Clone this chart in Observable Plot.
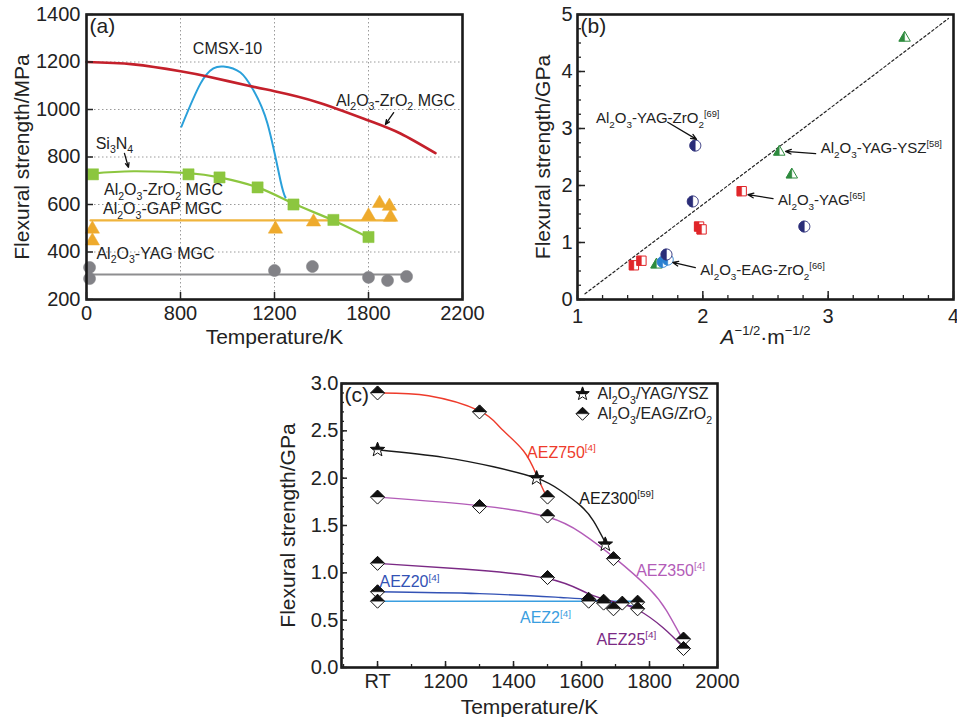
<!DOCTYPE html>
<html><head><meta charset="utf-8">
<script src="https://cdn.jsdelivr.net/npm/d3@7"></script>
<script src="https://cdn.jsdelivr.net/npm/@observablehq/plot@0.6"></script>
<style>
body{margin:0;background:#fff;}
#fig{position:relative;width:957px;height:717px;overflow:hidden;}
#fig > div{position:absolute;}
#pa{left:0;top:0;} #pb{left:478px;top:0;} #pc{left:230px;top:362px;}
</style></head>
<body><div id="fig"><div id="pa"></div><div id="pb"></div><div id="pc"></div></div>
<script>
const FONT = "'Liberation Sans', Arial, Helvetica, sans-serif";

// ---------------- Panel (a) data ----------------
const aTempTicks = [0, 800, 1200, 1800, 2200];
const aStrengthTicks = [200, 400, 600, 800, 1000, 1200, 1400];
const aZrO2FitT = [0, 400, 800, 915, 1085, 1200, 1474, 1800, 1936, 2085];
const aZrO2FitS = [1200, 1190, 1161, 1139, 1101, 1077, 1031, 954, 899, 816];
const aCmsxT = [804, 885, 940, 983, 1055, 1111, 1170, 1238, 1270];
const aCmsxS = [928, 1109, 1173, 1181, 1156, 1080, 941, 701, 630];
const aSi3N4FitT = [50, 400, 834, 966, 1128, 1321, 1576, 1800];
const aSi3N4FitS = [730, 740, 732, 714, 672, 604, 533, 461];
const aSi3N4T = [55, 834, 966, 1128, 1321, 1576, 1800];
const aSi3N4S = [727, 727, 714, 672, 600, 535, 463];
const aGapFitT = [34, 1915];
const aGapFitS = [533, 533];
const aGapT = [50, 50, 1206, 1449, 1800, 1847, 1889, 1894];
const aGapS = [500, 450, 500, 530, 555, 608, 596, 550];
const aYagFitT = [34, 1958];
const aYagFitS = [305, 305];
const aYagT = [26, 26, 1200, 1442, 1800, 1881, 1962];
const aYagS = [335, 288, 322, 339, 293, 280, 297];
const aLabelText = ["CMSX-10", "Al_2O_3-ZrO_2 MGC", "Si_3N_4", "Al_2O_3-ZrO_2 MGC", "Al_2O_3-GAP MGC", "Al_2O_3-YAG MGC"];
const aLabelT = [1000, 1915, 238, 655, 647, 587];
const aLabelS = [1257, 1038, 857, 662, 581, 394];
const aArrowT1 = [1907, 323], aArrowS1 = [987, 815];
const aArrowT2 = [1872, 357], aArrowS2 = [937, 756];

// ---------------- Panel (b) data ----------------
const bXTicks = [1, 2, 3, 4];
const bYTicks = [0, 1, 2, 3, 4, 5];
const bYagZrO2X = [1.94, 1.92, 2.81, 1.71];
const bYagZrO2Y = [2.70, 1.72, 1.28, 0.79];
const bYagX = [2.31, 1.97, 1.99, 1.45, 1.51];
const bYagY = [1.90, 1.28, 1.23, 0.60, 0.68];
const bYagYszX = [3.61, 2.61, 2.71, 1.63];
const bYagYszY = [4.60, 2.60, 2.20, 0.62];
const bEagX = [1.68, 1.72];
const bEagY = [0.66, 0.70];
const bRefX = [1.06, 3.96];
const bRefY = [0.10, 4.93];
const bLabelText = ["Al_2O_3-YAG-ZrO_2^{[69]}", "Al_2O_3-YAG-YSZ^{[58]}", "Al_2O_3-YAG^{[65]}", "Al_2O_3-EAG-ZrO_2^{[66]}"];
const bLabelX = [1.64, 2.94, 2.60, 1.98];
const bLabelY = [3.18, 2.65, 1.74, 0.51];
const bLabelAnchor = ["middle", "start", "start", "start"];
const bArrowX1 = [1.72, 2.90, 2.56, 1.94], bArrowY1 = [3.11, 2.56, 1.77, 0.56];
const bArrowX2 = [1.95, 2.66, 2.36, 1.76], bArrowY2 = [2.81, 2.60, 1.84, 0.65];

// ---------------- Panel (c) data ----------------
const cTempTicks = [1000, 1200, 1400, 1600, 1800, 2000];
const cTempTickLabels = ["RT", "1200", "1400", "1600", "1800", "2000"];
const cStrengthTicks = [0, 0.5, 1, 1.5, 2, 2.5, 3];
const cStrengthTickLabels = ["0.0", "0.5", "1.0", "1.5", "2.0", "2.5", "3.0"];
const cAez750T = [1000, 1150, 1300, 1362, 1429, 1468, 1495];
const cAez750S = [2.90, 2.87, 2.71, 2.53, 2.29, 2.03, 1.82];
const cAez300T = [1000, 1194, 1341, 1468, 1538, 1597, 1635, 1670];
const cAez300S = [2.30, 2.22, 2.12, 2.00, 1.87, 1.71, 1.55, 1.32];
const cAez350T = [1000, 1300, 1500, 1600, 1700, 1800, 1850, 1900];
const cAez350S = [1.80, 1.71, 1.59, 1.42, 1.15, 0.83, 0.60, 0.28];
const cAez25T = [1000, 1250, 1500, 1620, 1700, 1765, 1840, 1900];
const cAez25S = [1.10, 1.04, 0.94, 0.78, 0.69, 0.61, 0.42, 0.21];
const cAez20T = [1000, 1300, 1538, 1621, 1700, 1765];
const cAez20S = [0.80, 0.78, 0.74, 0.72, 0.68, 0.64];
const cAez2T = [1000, 1765];
const cAez2S = [0.70, 0.70];
const cEagT = [1000, 1000, 1000, 1000, 1000, 1300, 1300, 1500, 1500, 1500, 1621, 1621, 1665, 1665, 1694, 1694, 1720, 1765, 1765, 1900, 1900];
const cEagS = [2.90, 1.80, 1.10, 0.80, 0.70, 2.70, 1.70, 1.80, 1.60, 0.95, 0.72, 0.70, 0.70, 0.68, 1.15, 0.62, 0.68, 0.69, 0.62, 0.30, 0.20];
const cYszT = [1000, 1468, 1670];
const cYszS = [2.30, 2.00, 1.30];
const cLabelText = ["AEZ750^{[4]}", "AEZ300^{[59]}", "AEZ350^{[4]}", "AEZ20^{[4]}", "AEZ2^{[4]}", "AEZ25^{[4]}"];
const cLabelT = [1541, 1703, 1862, 1094, 1494, 1732];
const cLabelS = [2.27, 1.78, 1.02, 0.90, 0.52, 0.29];
const cLabelColor = ["#ee3b2b", "#1a1a1a", "#b35cb8", "#3352b5", "#3a9ee0", "#7b2a85"];
const cLegendText = ["Al_2O_3/YAG/YSZ", "Al_2O_3/EAG/ZrO_2"];
const cLegendT = [1603, 1603], cLegendS = [2.89, 2.68], cLegendTextT = [1647, 1647];

// ---------------- helpers ----------------
const pts = (xs, ys) => xs.map((x, i) => ({x, y: ys[i]}));
const shapes = {
  circle: r => d3.range(40).map(i => [r * Math.cos(i * Math.PI / 20), r * Math.sin(i * Math.PI / 20)]),
  square: r => [[-r * 0.9, -r * 0.9], [r * 0.9, -r * 0.9], [r * 0.9, r * 0.9], [-r * 0.9, r * 0.9]],
  triangle: r => [[0, -r * 1.15], [r * 1.1, r * 0.75], [-r * 1.1, r * 0.75]],
  diamond: r => [[0, -r], [r, 0], [0, r], [-r, 0]],
  star: r => d3.range(10).map(i => { const a = -Math.PI / 2 + i * Math.PI / 5, rr = i % 2 ? r * 0.42 : r; return [rr * Math.cos(a), rr * Math.sin(a)]; })
};
function clipHalf(p, side) {
  const f = side === "left" ? q => q[0] : q => q[1];
  const out = [];
  for (let i = 0; i < p.length; i++) {
    const a = p[i], b = p[(i + 1) % p.length], fa = f(a), fb = f(b);
    if (fa <= 1e-9) out.push(a);
    if ((fa < -1e-9 && fb > 1e-9) || (fa > 1e-9 && fb < -1e-9)) {
      const t = fa / (fa - fb);
      out.push([a[0] + t * (b[0] - a[0]), a[1] + t * (b[1] - a[1])]);
    }
  }
  return out;
}
function sym(shape, half) {
  return {draw(ctx, size) {
    const r = Math.sqrt(size / Math.PI);
    let p = shapes[shape](r);
    if (half) p = clipHalf(p, half);
    ctx.moveTo(p[0][0], p[0][1]);
    for (let i = 1; i < p.length; i++) ctx.lineTo(p[i][0], p[i][1]);
    ctx.closePath();
  }};
}
function fullDots(xs, ys, shape, color, r) {
  return Plot.dot(pts(xs, ys), {x: "x", y: "y", symbol: sym(shape), r, fill: color, stroke: color, strokeWidth: 0.5});
}
function halfDots(xs, ys, shape, half, color, r, sw = 1) {
  const d = pts(xs, ys);
  return [
    Plot.dot(d, {x: "x", y: "y", symbol: sym(shape), r, fill: "white", stroke: color, strokeWidth: sw}),
    Plot.dot(d, {x: "x", y: "y", symbol: sym(shape, half), r, fill: color, stroke: color, strokeWidth: 0.4})
  ];
}
function richify(root) {
  root.querySelectorAll("text").forEach(t => {
    if (t.querySelector("tspan")) return;
    const s = t.textContent;
    if (!/_\d|\^\{|~\w/.test(s)) return;
    const fs = parseFloat(getComputedStyle(t).fontSize) || 16;
    t.textContent = "";
    const re = /_(\d)|\^\{([^}]*)\}|~(\w)/g;
    let last = 0, m, shift = 0;
    const add = (str, o = {}) => {
      const ts = document.createElementNS("http://www.w3.org/2000/svg", "tspan");
      ts.textContent = str;
      const target = o.shift || 0;
      if (target !== shift) { ts.setAttribute("dy", (target - shift).toFixed(2)); shift = target; }
      if (o.size) ts.setAttribute("font-size", o.size.toFixed(2));
      if (o.italic) ts.setAttribute("font-style", "italic");
      t.appendChild(ts);
    };
    while ((m = re.exec(s))) {
      if (m.index > last) add(s.slice(last, m.index));
      if (m[1] !== undefined) add(m[1], {shift: 0.3 * fs, size: 0.66 * fs});
      else if (m[2] !== undefined) add(m[2], {shift: -0.42 * fs, size: 0.62 * fs});
      else add(m[3], {italic: true});
      last = re.lastIndex;
    }
    if (last < s.length) add(s.slice(last));
  });
}
const baseStyle = {fontFamily: FONT, fontSize: "20px", color: "#222", background: "transparent", overflow: "visible"};
const FRAME = Plot.frame({stroke: "#1a1a1a", strokeWidth: 2.6});
const yTitle = (txt, dx) => Plot.text([txt], {frameAnchor: "left", rotate: -90, dx: -dx, fontSize: 21, fill: "#222", textAnchor: "middle", lineAnchor: "middle"});
const xTitle = (txt, dy) => Plot.text([txt], {frameAnchor: "bottom", dy, fontSize: 21, fill: "#222", textAnchor: "middle", lineAnchor: "middle"});
const panelTag = (txt) => Plot.text([txt], {frameAnchor: "top-left", dx: 3, dy: 4, fontSize: 21, fill: "#222", textAnchor: "start", lineAnchor: "top"});
const plain = d => String(d);

// ---------------- Panel (a) ----------------
const A_LEFT = 86, A_RIGHT = 462;
const plotA = Plot.plot({
  width: 478, height: 360, marginLeft: A_LEFT, marginRight: 478 - A_RIGHT, marginTop: 14, marginBottom: 61,
  style: baseStyle,
  x: {type: "linear", domain: aTempTicks, range: aTempTicks.map((d, i) => A_LEFT + i * (A_RIGHT - A_LEFT) / (aTempTicks.length - 1)), label: null},
  y: {domain: [200, 1400], label: null},
  marks: [
    Plot.gridX(aTempTicks, {stroke: "#9a9a9a", strokeOpacity: 1, strokeDasharray: "1.5,2.5"}),
    Plot.gridY(aStrengthTicks, {stroke: "#9a9a9a", strokeOpacity: 1, strokeDasharray: "1.5,2.5"}),
    Plot.line(pts(aYagFitT, aYagFitS), {x: "x", y: "y", stroke: "#8e8e90", strokeWidth: 2}),
    Plot.line(pts(aGapFitT, aGapFitS), {x: "x", y: "y", stroke: "#f0b43c", strokeWidth: 2.2}),
    Plot.line(pts(aSi3N4FitT, aSi3N4FitS), {x: "x", y: "y", stroke: "#8cc63f", strokeWidth: 2.2, curve: "natural"}),
    Plot.line(pts(aCmsxT, aCmsxS), {x: "x", y: "y", stroke: "#2aa0da", strokeWidth: 2, curve: "natural"}),
    Plot.line(pts(aZrO2FitT, aZrO2FitS), {x: "x", y: "y", stroke: "#c4202b", strokeWidth: 2.6, curve: "natural"}),
    fullDots(aYagT, aYagS, "circle", "#828287", 6),
    fullDots(aGapT, aGapS, "triangle", "#eeaa2c", 6.5),
    fullDots(aSi3N4T, aSi3N4S, "square", "#8cc63f", 6.2),
    Plot.text(pts(aLabelT, aLabelS).map((d, i) => ({...d, t: aLabelText[i]})), {x: "x", y: "y", text: "t", fontSize: 16, fill: "#222", textAnchor: "middle"}),
    Plot.arrow(aArrowT1.map((d, i) => i), {x1: i => aArrowT1[i], y1: i => aArrowS1[i], x2: i => aArrowT2[i], y2: i => aArrowS2[i], stroke: "#111", strokeWidth: 1.3, headLength: 7, headAngle: 45}),
    panelTag("(a)"),
    FRAME,
    Plot.axisX(aTempTicks, {tickSize: -7, tickPadding: 13, fontSize: 20, stroke: "#222", strokeWidth: 1.5, fill: "#222", tickFormat: plain}),
    Plot.axisY(aStrengthTicks, {tickSize: -7, tickPadding: 13, fontSize: 20, stroke: "#222", strokeWidth: 1.5, fill: "#222", tickFormat: plain}),
    yTitle("Flexural strength/MPa", 64),
    xTitle("Temperature/K", 38)
  ]
});
document.getElementById("pa").appendChild(plotA);

// ---------------- Panel (b) ----------------
const plotB = Plot.plot({
  width: 479, height: 360, marginLeft: 99, marginRight: 4, marginTop: 14, marginBottom: 61,
  style: baseStyle,
  x: {domain: [1, 4], label: null},
  y: {domain: [0, 5], label: null},
  marks: [
    Plot.line(pts(bRefX, bRefY), {x: "x", y: "y", stroke: "#222", strokeWidth: 1.2, strokeDasharray: "2.5,2.5"}),
    halfDots(bYagX, bYagY, "square", "left", "#e0262a", 5.2),
    halfDots(bYagYszX, bYagYszY, "triangle", "left", "#2e8b3e", 5.2),
    halfDots(bEagX, bEagY, "circle", "left", "#2a80d0", 5.5),
    halfDots(bYagZrO2X, bYagZrO2Y, "circle", "left", "#2a2d78", 5.5),
    Plot.text(bLabelText.map((t, i) => ({t, x: bLabelX[i], y: bLabelY[i], a: bLabelAnchor[i]})).filter(d => d.a === "middle"), {x: "x", y: "y", text: "t", fontSize: 15, fill: "#222", textAnchor: "middle"}),
    Plot.text(bLabelText.map((t, i) => ({t, x: bLabelX[i], y: bLabelY[i], a: bLabelAnchor[i]})).filter(d => d.a === "start"), {x: "x", y: "y", text: "t", fontSize: 15, fill: "#222", textAnchor: "start"}),
    Plot.arrow(bArrowX1.map((d, i) => i), {x1: i => bArrowX1[i], y1: i => bArrowY1[i], x2: i => bArrowX2[i], y2: i => bArrowY2[i], stroke: "#111", strokeWidth: 1.3, headLength: 7, headAngle: 45}),
    panelTag("(b)"),
    FRAME,
    Plot.axisX(d3.range(1, 4.001, 0.2), {tickSize: -4, tickFormat: () => "", stroke: "#222", strokeWidth: 1.3}),
    Plot.axisY(d3.range(0, 5.001, 0.25), {tickSize: -4, tickFormat: () => "", stroke: "#222", strokeWidth: 1.3}),
    Plot.axisX(bXTicks, {tickSize: -8, tickPadding: 17, fontSize: 20, stroke: "#222", strokeWidth: 1.5, fill: "#222", tickFormat: plain}),
    Plot.axisY(bYTicks, {tickSize: -8, tickPadding: 13, fontSize: 20, stroke: "#222", strokeWidth: 1.5, fill: "#222", tickFormat: plain}),
    yTitle("Flexural strength/GPa", 34),
    xTitle("~A^{−1/2}·m^{−1/2}", 38)
  ]
});
document.getElementById("pb").appendChild(plotB);

// ---------------- Panel (c) ----------------
const plotC = Plot.plot({
  width: 500, height: 355, marginLeft: 111, marginRight: 13, marginTop: 21, marginBottom: 50,
  style: baseStyle,
  x: {domain: [894, 2000], label: null},
  y: {domain: [0, 3], label: null},
  marks: [
    Plot.line(pts(cAez2T, cAez2S), {x: "x", y: "y", stroke: "#3a9ee0", strokeWidth: 1.4}),
    Plot.line(pts(cAez20T, cAez20S), {x: "x", y: "y", stroke: "#3352b5", strokeWidth: 1.4, curve: "natural"}),
    Plot.line(pts(cAez25T, cAez25S), {x: "x", y: "y", stroke: "#7b2a85", strokeWidth: 1.4, curve: "natural"}),
    Plot.line(pts(cAez350T, cAez350S), {x: "x", y: "y", stroke: "#b35cb8", strokeWidth: 1.4, curve: "natural"}),
    Plot.line(pts(cAez300T, cAez300S), {x: "x", y: "y", stroke: "#1a1a1a", strokeWidth: 1.4, curve: "natural"}),
    Plot.line(pts(cAez750T, cAez750S), {x: "x", y: "y", stroke: "#ee3b2b", strokeWidth: 1.4, curve: "natural"}),
    halfDots(cEagT, cEagS, "diamond", "top", "#111", 7, 1),
    halfDots(cYszT, cYszS, "star", "top", "#111", 7.5, 1),
    halfDots(cLegendT.slice(0, 1), cLegendS.slice(0, 1), "star", "top", "#111", 7, 1),
    halfDots(cLegendT.slice(1), cLegendS.slice(1), "diamond", "top", "#111", 6.5, 1),
    Plot.text(cLegendText.map((t, i) => ({t, x: cLegendTextT[i], y: cLegendS[i]})), {x: "x", y: "y", text: "t", fontSize: 16, fill: "#222", textAnchor: "start"}),
    Plot.text(cLabelText.map((t, i) => ({t, x: cLabelT[i], y: cLabelS[i], c: cLabelColor[i]})), {x: "x", y: "y", text: "t", fill: "c", fontSize: 16, textAnchor: "middle"}),
    panelTag("(c)"),
    FRAME,
    Plot.axisX(d3.range(900, 2001, 100), {tickSize: -3, tickFormat: () => "", stroke: "#222", strokeWidth: 1.3}),
    Plot.axisY(d3.range(0, 3.001, 0.1), {tickSize: -3, tickFormat: () => "", stroke: "#222", strokeWidth: 1.3}),
    Plot.axisX(cTempTicks, {tickSize: -6, tickPadding: 12, fontSize: 20, stroke: "#222", strokeWidth: 1.5, fill: "#222", tickFormat: d => cTempTickLabels[cTempTicks.indexOf(d)]}),
    Plot.axisY(cStrengthTicks, {tickSize: -6, tickPadding: 9, fontSize: 20, stroke: "#222", strokeWidth: 1.5, fill: "#222", tickFormat: d => cStrengthTickLabels[cStrengthTicks.indexOf(d)]}),
    yTitle("Flexural strength/GPa", 53),
    xTitle("Temperature/K", 40)
  ]
});
document.getElementById("pc").appendChild(plotC);

[plotA, plotB, plotC].forEach(richify);
</script></body></html>
